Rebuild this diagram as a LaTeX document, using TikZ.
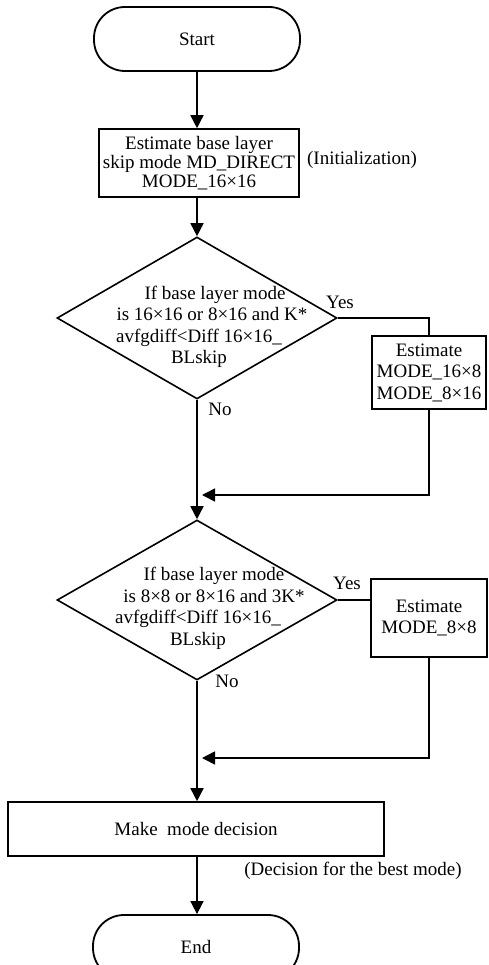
\documentclass[tikz,border=0pt]{standalone}
\usepackage{fontspec}
\setmainfont{Liberation Serif}
\usetikzlibrary{arrows.meta,shapes.geometric}

\tikzset{
  base/.style={font=\fontsize{19pt}{21.5pt}\selectfont},
  terminal/.style={base, draw, line width=1.8pt, rounded corners=31pt,
    minimum width=206pt, minimum height=64pt, inner sep=0pt},
  procbox/.style={base, draw, line width=1.6pt, align=center, inner sep=0pt},
  decision/.style={draw, line width=1.6pt, diamond, inner sep=0pt,
    minimum width=280pt},
  condtext/.style={base, align=center, inner sep=0pt},
  lbl/.style={base, inner sep=0pt},
  flow/.style={line width=1.6pt, -{Triangle[width=13pt,length=13pt]}},
  link/.style={line width=1.6pt}
}

\begin{document}
\begin{tikzpicture}[x=1pt,y=-1pt]
  \clip (0,0) rectangle (488,965);
  \fill[white] (0,0) rectangle (488,965);

  % main column
  \node[terminal] (start) at (197,39) {Start};
  \node[procbox, minimum width=200pt, minimum height=68pt,
        font=\fontsize{19pt}{19pt}\selectfont] (init) at (199,163)
    {Estimate base layer\\skip mode MD\_DIRECT\\MODE\_16×16};
  \node[lbl] (initnote) at (362,160) {(Initialization)};

  % first test
  \node[decision, minimum height=162pt] (d1) at (197,318) {};
  \node[condtext] (d1t) at (199,327)
    {\hspace*{32pt}If base layer mode\\
     \hspace*{26pt}is 16×16 or 8×16 and K*\\
     avfgdiff<Diff 16×16\_\\
     BLskip};
  \node[lbl] (yes1) at (340,302) {Yes};
  \node[lbl] (no1) at (220,409) {No};
  \node[procbox, minimum width=114pt, minimum height=73pt] (est1) at (429,372.5)
    {Estimate\\MODE\_16×8\\MODE\_8×16};
  \coordinate (j1) at (197,495);

  % second test
  \node[decision, minimum height=160pt] (d2) at (197,600) {};
  \node[condtext] (d2t) at (198,608.5)
    {\hspace*{32pt}If base layer mode\\
     \hspace*{32pt}is 8×8 or 8×16 and 3K*\\
     avfgdiff<Diff 16×16\_\\
     BLskip};
  \node[lbl] (yes2) at (347,583) {Yes};
  \node[lbl] (no2) at (227,681) {No};
  \node[procbox, minimum width=116pt, minimum height=78pt] (est2) at (429,618)
    {Estimate\\MODE\_8×8};
  \coordinate (j2) at (197,758);

  % decision and end
  \node[procbox, minimum width=376pt, minimum height=54pt] (dec) at (196,829)
    {Make~ mode decision};
  \node[lbl] (decnote) at (353,871) {(Decision for the best mode)};
  \node[terminal] (end) at (196,947) {End};

  % connectors
  \draw[flow] (start.south) -- (start.south |- init.north);
  \draw[flow] (init.south -| d1.north) -- (d1.north);
  \draw[link] (d1.east) -| (est1.north);
  \draw[flow] (est1.south) |- ([xshift=5pt]j1);
  \draw[flow] (d1.south) -- (d2.north);
  \draw[link] (d2.east) -- (d2.east -| est2.west);
  \draw[flow] (est2.south) |- ([xshift=5pt]j2);
  \draw[flow] (d2.south) -- (d2.south |- dec.north);
  \draw[flow] (d2.south |- dec.south) -- (d2.south |- end.north);
\end{tikzpicture}
\end{document}
